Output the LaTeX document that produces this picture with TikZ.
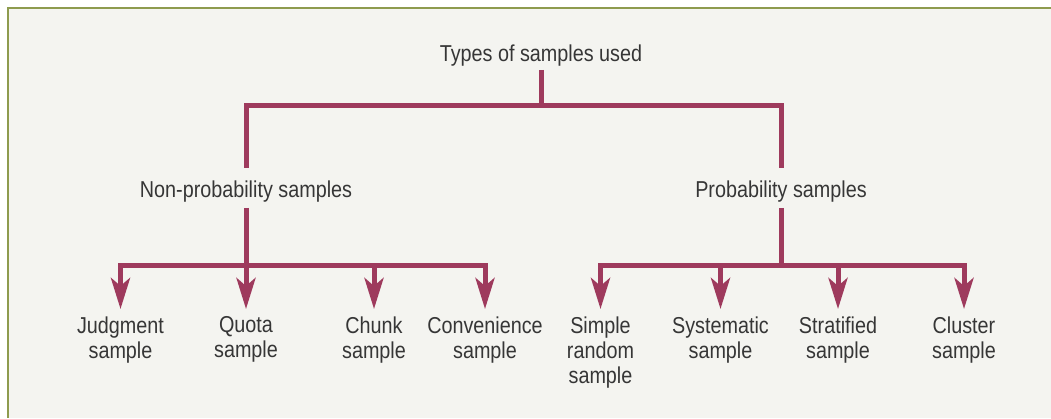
\documentclass[tikz,border=0pt]{standalone}
\usepackage{fontspec}
\setmainfont{Liberation Sans}[FakeStretch=0.86]
\usetikzlibrary{arrows.meta}
\definecolor{frameol}{HTML}{8E9B4E}
\definecolor{bgpaper}{HTML}{F4F4F0}
\definecolor{linkc}{HTML}{9E3A5D}
\definecolor{txtc}{HTML}{363636}
\begin{document}
\begin{tikzpicture}[x=1pt,y=-1pt,
  lbl/.style={font=\fontsize{23}{25}\selectfont, text=txtc, align=center, inner sep=0pt},
  link/.style={draw=linkc, line width=5pt},
  arr/.style={link, shorten >=7.5pt, -{Stealth[length=31pt,width=19pt,inset=8pt]}}]
\useasboundingbox (0,0) rectangle (1051,418);
\fill[white] (0,0) rectangle (1051,418);
\fill[bgpaper] (8,8) rectangle (1051,418);
\draw[frameol, line width=1.5pt] (1051,8) -- (8,8) -- (8,418);
% levels
\coordinate (barY) at (0,105);
\coordinate (lowY) at (0,265);
% nodes
\node[lbl, anchor=base, inner sep=4pt] (types) at (541,61) {Types of samples used};
\node[lbl, anchor=base, inner sep=6pt] (np) at (246,197) {Non-probability samples};
\node[lbl, anchor=base, inner sep=6pt] (pr) at (781,197) {Probability samples};
\node[lbl, anchor=north] (judg) at (120.5,316.5) {Judgment\\sample};
\node[lbl, anchor=north] (quota) at (246,316.5) {Quota\\sample};
\node[lbl, anchor=north] (chunk) at (374,316.5) {Chunk\\sample};
\node[lbl, anchor=north] (conv) at (485,316.5) {Convenience\\sample};
\node[lbl, anchor=north] (simple) at (600.5,316.5) {Simple\\random\\sample};
\node[lbl, anchor=north] (syst) at (720.5,316.5) {Systematic\\sample};
\node[lbl, anchor=north] (strat) at (838,316.5) {Stratified\\sample};
\node[lbl, anchor=north] (clus) at (964,316.5) {Cluster\\sample};
% top tree
\draw[link] (types.south) -- (types.south |- barY);
\draw[link] ([yshift=6.5pt]np.north) -- (np.north |- barY) -- (pr.north |- barY) -- ([yshift=6.5pt]pr.north);
% lower left
\draw[link] (np.south) -- (np.south |- lowY);
\draw[link, line cap=rect] (judg.north |- lowY) -- (conv.north |- lowY);
\foreach \n in {judg,quota,chunk,conv}
  \draw[arr] (\n.north |- lowY) -- (\n.north);
% lower right
\draw[link] (pr.south) -- (pr.south |- lowY);
\draw[link, line cap=rect] (simple.north |- lowY) -- (clus.north |- lowY);
\foreach \n in {simple,syst,strat,clus}
  \draw[arr] (\n.north |- lowY) -- (\n.north);
\end{tikzpicture}
\end{document}
